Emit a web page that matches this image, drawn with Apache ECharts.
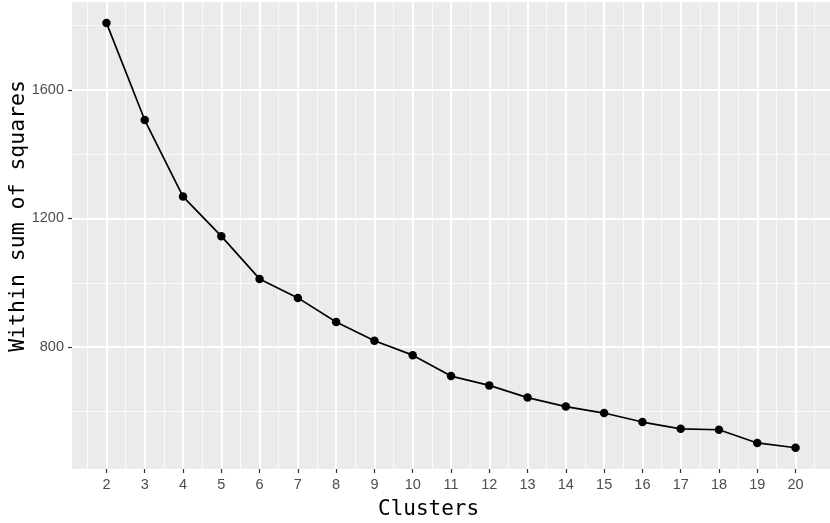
<!DOCTYPE html>
<html>
<head>
    <meta charset="utf-8">
    <script src="https://cdn.jsdelivr.net/npm/echarts@6/dist/echarts.min.js"></script>
    <style>
        body { margin: 0; background: #fff; }
    </style>
</head>
<body>
<div id="elbow" style="width: 830px;height:523px;"></div>
<script type="text/javascript">
    // data
    var clusters = [2, 3, 4, 5, 6, 7, 8, 9, 10, 11, 12, 13, 14, 15, 16, 17, 18, 19, 20];
    var wss = [1808, 1506, 1268, 1145, 1012, 953, 878, 820, 775, 710, 681, 643, 615, 595, 567, 546, 543, 502, 487];
    var xMajor = clusters;
    var xMinor = [1.5, 2.5, 3.5, 4.5, 5.5, 6.5, 7.5, 8.5, 9.5, 10.5, 11.5, 12.5, 13.5, 14.5, 15.5, 16.5, 17.5, 18.5, 19.5, 20.5];
    var yMajor = [800, 1200, 1600];
    var yMinor = [600, 1000, 1400, 1800];

    var myChart = echarts.init(document.getElementById('elbow'));

    var points = [];
    for (var i = 0; i < clusters.length; i++) {
        points.push([clusters[i], wss[i]]);
    }

    var xMin = 1.1, xMax = 20.9, yMin = 421, yMax = 1873;
    var tickLabel = {
        color: '#4d4d4d', fontSize: 14.5, fontFamily: 'Liberation Sans, Arial, sans-serif',
        formatter: function (v) { return String(v); }
    };
    var titleFont = 'DejaVu Sans Mono, monospace';

    option = {
        animation: false,
        grid: {
            left: 72, right: 0, top: 2, bottom: 54,
            outerBoundsMode: 'none', containLabel: false,
            show: true, backgroundColor: '#ebebeb', borderWidth: 0
        },
        xAxis: [{
            // minor grid
            type: 'value', min: xMin, max: xMax,
            axisLine: { show: false }, axisTick: { show: false, customValues: xMinor },
            axisLabel: { show: false, customValues: xMinor },
            splitLine: { show: true, lineStyle: { color: '#fafafa', width: 1 } }
        }, {
            type: 'value', min: xMin, max: xMax, position: 'bottom',
            axisLine: { show: false },
            axisTick: { show: true, length: 4, customValues: xMajor, lineStyle: { color: '#333', width: 1.2 } },
            axisLabel: Object.assign({ customValues: xMajor, margin: 8 }, tickLabel),
            splitLine: { show: true, lineStyle: { color: '#ffffff', width: 2 } }
        }],
        yAxis: [{
            type: 'value', min: yMin, max: yMax,
            axisLine: { show: false }, axisTick: { show: false, customValues: yMinor },
            axisLabel: { show: false, customValues: yMinor },
            splitLine: { show: true, lineStyle: { color: '#fafafa', width: 1 } }
        }, {
            type: 'value', min: yMin, max: yMax, position: 'left',
            axisLine: { show: false },
            axisTick: { show: true, length: 4, customValues: yMajor, lineStyle: { color: '#333', width: 1.2 } },
            axisLabel: Object.assign({ customValues: yMajor, margin: 8 }, tickLabel),
            splitLine: { show: true, lineStyle: { color: '#ffffff', width: 2 } }
        }],
        graphic: [{
            type: 'text', left: 378, top: 499,
            style: { text: 'Clusters', fill: '#000', fontSize: 21, fontFamily: titleFont }
        }, {
            type: 'text', left: 7, top: 80, rotation: Math.PI / 2,
            style: { text: 'Within sum of squares', fill: '#000', fontSize: 21.5, fontFamily: titleFont }
        }],
        series: [{
            type: 'line',
            xAxisIndex: 1, yAxisIndex: 1,
            data: points,
            symbol: 'circle', symbolSize: 8.5, showSymbol: true,
            itemStyle: { color: '#000' },
            lineStyle: { color: '#000', width: 1.7 }
        }]
    };

    myChart.setOption(option);
</script>
</body>
</html>
